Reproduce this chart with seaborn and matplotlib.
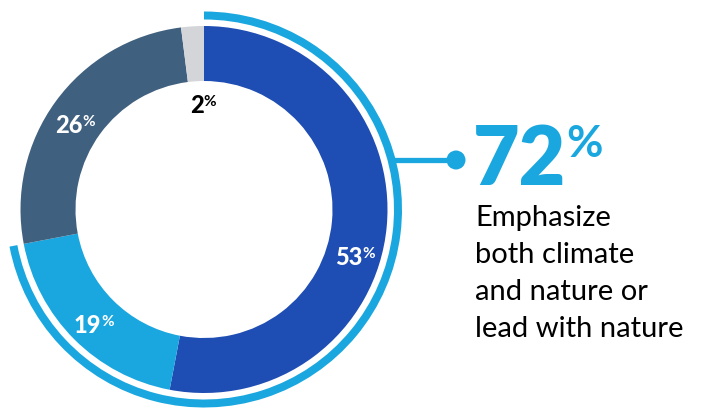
import numpy as np
import matplotlib
matplotlib.use("Agg")
import matplotlib.pyplot as plt
from matplotlib.patches import Circle
import seaborn as sns

# Share of responses, clockwise from 12 o'clock
segments = ["Emphasize both", "Lead with nature", "Lead with climate", "Other"]
shares = [53, 19, 26, 2]
segment_colors = ["#1e4db3", "#1aa7df", "#40607f", "#d4d5d8"]
label_colors = ["white", "white", "white", "black"]

# Combined group highlighted by the outer arc
highlight_share = shares[0] + shares[1]
highlight_text = ["Emphasize", "both climate", "and nature or", "lead with nature"]

sns.set_theme(style="white")
plt.rcParams["font.family"] = ["Lato", "DejaVu Sans"]

W, H = 703, 412
fig = plt.figure(figsize=(W / 100, H / 100), dpi=100)
ax = fig.add_axes([0, 0, 1, 1])

cx, cy = 204, H - 209.5
r_ring, ring_w = 183.5, 55
r_arc, arc_w = 198, 8

ax.pie(shares, colors=segment_colors, startangle=90, counterclock=False,
       radius=r_ring, center=(cx, cy), frame=True,
       wedgeprops=dict(width=ring_w, linewidth=0))

# Outer arc spanning the highlighted group
ax.pie([highlight_share, 100 - highlight_share],
       colors=["#1aa7df", "none"], startangle=90, counterclock=False,
       radius=r_arc, center=(cx, cy), frame=True,
       wedgeprops=dict(width=arc_w, linewidth=0))
ax.set_xlim(0, W)
ax.set_ylim(0, H)
ax.set_aspect("equal")
ax.axis("off")

# Segment labels: number plus small raised percent sign
nudges = [(13.9, 168), (-5.2, 161), (-3.8, 144), (3.3, 96.5)]
start = 0.0
for share, col, (dang, rad) in zip(shares, label_colors, nudges):
    mid = start + share / 2 * 3.6
    start += share * 3.6
    th = np.deg2rad(mid + dang)
    jx = cx + rad * np.sin(th)
    jy = cy + rad * np.cos(th)
    ax.text(jx, jy, f"{share}", ha="right", va="baseline", color=col,
            fontsize=17, fontweight="black")
    ax.text(jx, jy + 18, "%", ha="left", va="top", color=col,
            fontsize=11, fontweight="bold")

# Connector from the arc to the callout
ly = H - 160
lx0 = cx + np.sqrt(r_arc ** 2 - (ly - cy) ** 2) - 3
ax.plot([lx0, 452], [ly, ly], color="#1aa7df", lw=3.8, solid_capstyle="butt")
ax.add_patch(Circle((456, ly), 9.5, color="#1aa7df", lw=0))

ax.text(473, H - 185, f"{highlight_share}", ha="left", va="baseline",
        color="#1aa7df", fontsize=58, fontweight="heavy")
ax.text(566, H - 124, "%", ha="left", va="top", color="#1aa7df",
        fontsize=32, fontweight="bold")

for i, line in enumerate(highlight_text):
    ax.text(475, H - (226 + 37 * i), line, ha="left", va="baseline",
            color="black", fontsize=21)

fig.savefig("out.png", dpi=100)
